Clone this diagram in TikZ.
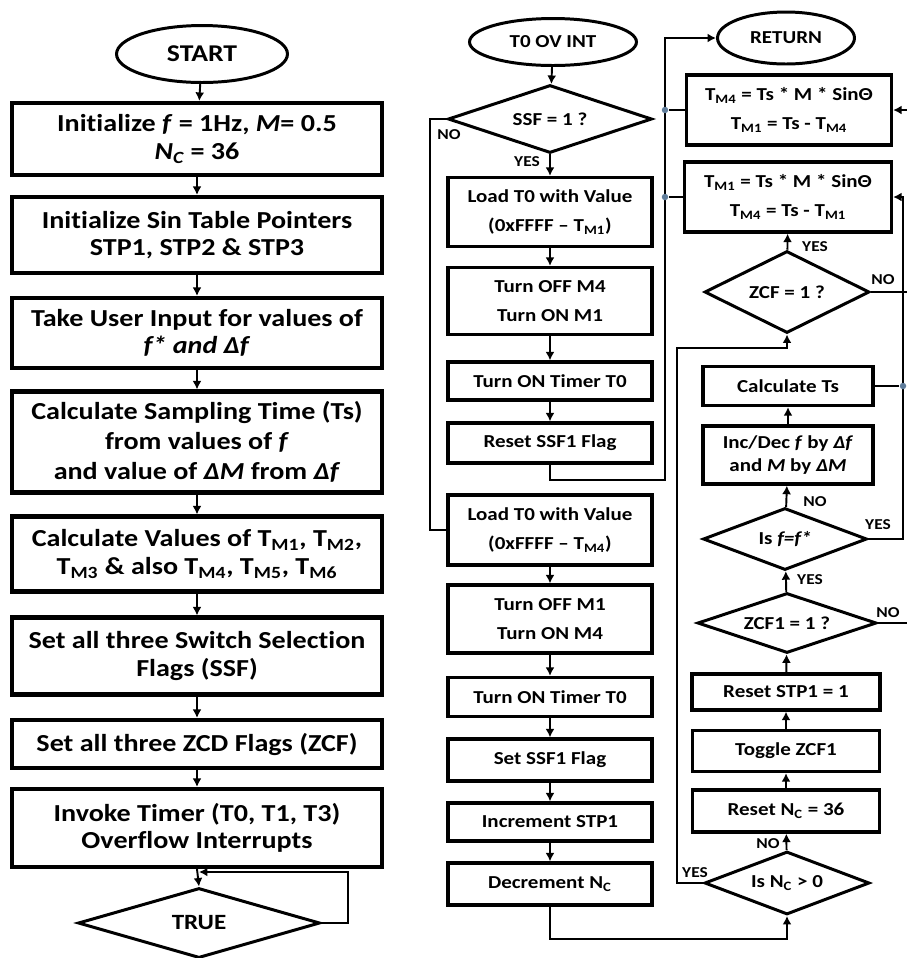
\documentclass[tikz,border=0pt]{standalone}
\usepackage{fontspec}
\setmainfont{Carlito}[FakeStretch=1.15,Ligatures=NoCommon]
\usetikzlibrary{shapes.geometric,arrows.meta}
\definecolor{dotblue}{RGB}{95,125,155}

\begin{document}
\begin{tikzpicture}[x=0.02cm,y=-0.02cm,line width=1.1pt,
  >={Latex[length=1.7mm,width=1.8mm]}]
  \useasboundingbox (0,0) rectangle (907,958);

% styles
  \tikzset{mainbox/.style={draw,line width=2.4pt,minimum width=7.4cm,align=center,inner sep=0pt,
      font=\bfseries\fontsize{13.9}{15.6}\selectfont},
    subbox/.style={draw,line width=1.9pt,minimum width=4.08cm,align=center,inner sep=0pt,
      font=\bfseries\fontsize{10.4}{16.5}\selectfont},
    ask/.style={draw,diamond,aspect=3,line width=1.7pt,inner sep=0pt,
      font=\bfseries\fontsize{10.4}{12}\selectfont},
    term/.style={draw,ellipse,line width=1.7pt,inner sep=0pt,
      font=\bfseries\fontsize{10.4}{12}\selectfont},
    tag/.style={inner sep=0pt,font=\bfseries\fontsize{8.6}{9}\selectfont},
    jdot/.style={circle,fill=dotblue,inner sep=0pt,minimum size=0.13cm}}

% main program
  \node[term,minimum width=3.42cm,minimum height=1.14cm,font=\bfseries\fontsize{13.7}{14}\selectfont] (start) at (202,54) {START};
  \node[mainbox,minimum height=1.44cm] (init) at (197,139) {Initialize \textit{f} = 1Hz, \textit{M}= 0.5\\\textit{N\textsubscript{C}} = 36};
  \node[mainbox,minimum height=1.52cm] (stp) at (197,235) {Initialize Sin Table Pointers\\STP1, STP2 \& STP3};
  \node[mainbox,minimum height=1.4cm] (user) at (197,333) {Take User Input for values of\\\textit{f* and Δf}};
  \node[mainbox,minimum height=2.02cm,font=\bfseries\fontsize{13.9}{17}\selectfont] (samp) at (197,442) {Calculate Sampling Time (Ts)\\from values of \textit{f}\\and value of \textit{ΔM} from \textit{Δf}};
  \node[mainbox,minimum height=1.5cm] (tval) at (197,554) {Calculate Values of T\textsubscript{M1}, T\textsubscript{M2},\\T\textsubscript{M3} \& also T\textsubscript{M4}, T\textsubscript{M5}, T\textsubscript{M6}};
  \node[mainbox,minimum height=1.54cm] (ssf) at (197,656) {Set all three Switch Selection\\Flags (SSF)};
  \node[mainbox,minimum height=0.96cm] (zcf) at (197,744) {Set all three ZCD Flags (ZCF)};
  \node[mainbox,minimum height=1.56cm] (timer) at (197,828) {Invoke Timer (T0, T1, T3)\\Overflow Interrupts};
  \node[ask,minimum width=4.84cm,minimum height=1.4cm,font=\bfseries\fontsize{12.4}{13}\selectfont] (true) at (199,923) {TRUE};

  \draw[->] (start) -- (init);
  \draw[->] (init) -- (stp);
  \draw[->] (stp) -- (user);
  \draw[->] (user) -- (samp);
  \draw[->] (samp) -- (tval);
  \draw[->] (tval) -- (ssf);
  \draw[->] (ssf) -- (zcf);
  \draw[->] (zcf) -- (timer);
  \draw[->] (timer.south) -- (true.north);
  \coordinate (tl) at (348,872);
  \draw[->] (true.east) -| (tl) -- (tl -| true.north);

% interrupt routine
  \node[term,minimum width=3.34cm,minimum height=0.94cm] (t0int) at (553,42) {T0 OV INT};
  \node[ask,minimum width=4.08cm,minimum height=1.36cm] (ssfq) at (550,119) {SSF = 1 ?};
  \node[subbox,minimum height=1.38cm] (load1) at (550,212) {Load T0 with Value\\(0xFFFF – T\textsubscript{M1})};
  \node[subbox,minimum height=1.34cm] (m4off) at (550,301) {Turn OFF M4\\Turn ON M1};
  \node[subbox,minimum height=0.76cm] (ton1) at (550,381) {Turn ON Timer T0};
  \node[subbox,minimum height=0.8cm] (rst) at (550,443) {Reset SSF1 Flag};
  \node[subbox,minimum height=1.4cm] (load2) at (550,530) {Load T0 with Value\\(0xFFFF – T\textsubscript{M4})};
  \node[subbox,minimum height=1.36cm] (m1off) at (550,619) {Turn OFF M1\\Turn ON M4};
  \node[subbox,minimum height=0.78cm] (ton2) at (550,697) {Turn ON Timer T0};
  \node[subbox,minimum height=0.84cm] (setssf) at (550,760) {Set SSF1 Flag};
  \node[subbox,minimum height=0.76cm] (inc) at (550,822) {Increment STP1};
  \node[subbox,minimum height=0.84cm] (dec) at (550,884) {Decrement N\textsubscript{C}};

  \draw[->] (t0int) -- (ssfq);
  \draw[->] (ssfq) -- (load1);
  \node[tag] (y1) at (527,162) {YES};
  \coordinate (ln) at (430,119);
  \draw (ssfq.west) -- (ln) |- (load2.west);
  \node[tag] (n1) at (449,135) {NO};
  \draw[->] (load1) -- (m4off);
  \draw[->] (m4off) -- (ton1);
  \draw[->] (ton1) -- (rst);
  \draw[->] (load2) -- (m1off);
  \draw[->] (m1off) -- (ton2);
  \draw[->] (ton2) -- (setssf);
  \draw[->] (setssf) -- (inc);
  \draw[->] (inc) -- (dec);

% duty update
  \node[term,minimum width=2.74cm,minimum height=1.04cm] (ret) at (786,38) {RETURN};
  \node[subbox,minimum width=4.1cm,minimum height=1.4cm] (tm4) at (789,110) {T\textsubscript{M4} = Ts * M * SinΘ\\T\textsubscript{M1} = Ts - T\textsubscript{M4}};
  \node[subbox,minimum width=4.14cm,minimum height=1.4cm] (tm1) at (788,197) {T\textsubscript{M1} = Ts * M * SinΘ\\T\textsubscript{M4} = Ts - T\textsubscript{M1}};
  \node[ask,minimum width=3.3cm,minimum height=1.64cm] (zcfq) at (787,292) {ZCF = 1 ?};
  \node[subbox,minimum width=3.4cm,minimum height=0.78cm] (calc) at (788,386) {Calculate Ts};
  \node[subbox,minimum width=3.4cm,minimum height=1.16cm,font=\bfseries\fontsize{10.4}{13.5}\selectfont] (incdec) at (788,455) {Inc/Dec \textit{f} by \textit{Δf}\\and \textit{M} by \textit{ΔM}};
  \node[ask,minimum width=3.28cm,minimum height=1.24cm] (feq) at (785,539) {Is \textit{f=f*}};
  \node[ask,minimum width=3.58cm,minimum height=1.2cm] (zcf1q) at (787,623) {ZCF1 = 1 ?};
  \node[subbox,minimum width=3.76cm,minimum height=0.72cm] (rstp) at (786,692) {Reset STP1 = 1};
  \node[subbox,minimum width=3.74cm,minimum height=0.82cm] (tog) at (786,751) {Toggle ZCF1};
  \node[subbox,minimum width=3.74cm,minimum height=0.84cm] (rnc) at (786,811) {Reset N\textsubscript{C} = 36};
  \node[ask,minimum width=3.3cm,minimum height=1.26cm] (ncq) at (787,883) {Is N\textsubscript{C} > 0};

  % back to return
  \coordinate (jr) at (665,480);
  \coordinate (jt) at (665,38);
  \draw[->] (rst.south) |- (jr) -- (jt) -- (ret.west);
  \node[jdot] (da) at (665,110) {};
  \node[jdot] (db) at (665,197) {};
  \draw (tm4.west) -- (da);
  \draw (tm1.west) -- (db);

  % from the counter
  \draw[->] (dec.south) -- ++(0,32) -| (ncq.south);
  \draw[->] (ncq) -- (rnc);
  \node[tag] (n5) at (768,844) {NO};
  \draw[->] (rnc) -- (tog);
  \draw[->] (tog) -- (rstp);
  \draw[->] (rstp) -- (zcf1q);
  \draw[->] (zcf1q) -- (feq);
  \node[tag] (y4) at (810,580) {YES};
  \draw[->] (feq) -- (incdec);
  \node[tag] (n3) at (815,502) {NO};
  \draw[->] (incdec) -- (calc);
  \coordinate (ly) at (677,348);
  \draw[->] (ncq.west) -| (ly) -| (zcfq.south);
  \node[tag] (y5) at (695,873) {YES};
  \draw[->] (zcfq) -- (tm1);
  \node[tag] (y2) at (815,247) {YES};

  % right hand side
  \coordinate (rv) at (903,197);
  \draw[->] (feq.east) -| (rv) -- (tm1.east);
  \node[tag] (y3) at (878,525) {YES};
  \node[jdot] (dc) at (903,386) {};
  \draw (calc.east) -- (dc);
  \coordinate (edge) at (907,0);
  \draw (zcfq.east) -- (zcfq.east -| edge);
  \node[tag] (n2) at (883,280) {NO};
  \draw (zcf1q.east) -- (zcf1q.east -| edge);
  \node[tag] (n4) at (888,613) {NO};
  \draw[->] (edge |- tm4.east) -- (tm4.east);
\end{tikzpicture}
\end{document}
